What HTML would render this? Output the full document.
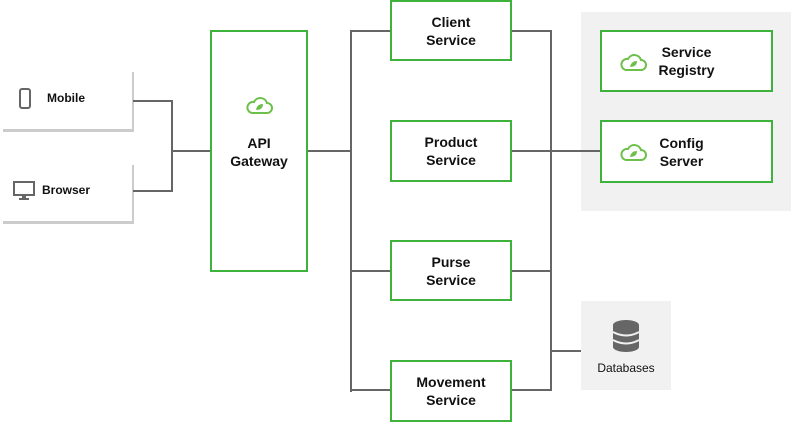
<!DOCTYPE html>
<html><head><style>
body{margin:0;width:792px;height:422px;background:#fff;position:relative;overflow:hidden;font-family:"Liberation Sans",Arial,sans-serif;}
.a{position:absolute}
.box{position:absolute;border:2px solid #3db33d;background:#fff;box-sizing:border-box;display:flex;align-items:center;justify-content:center;text-align:center;font-size:14px;font-weight:bold;color:#111;line-height:18px}
.h{position:absolute;height:2px;background:#666}
.v{position:absolute;width:2px;background:#666}
</style></head><body>
<div class="a" style="left:581px;top:12px;width:210px;height:199px;background:#f1f1f1"></div>
<div class="a" style="left:581px;top:301px;width:90px;height:89px;background:#f1f1f1"></div>
<div class="a" style="left:132px;top:72px;width:2px;height:59px;background:#ccc"></div>
<div class="a" style="left:3px;top:129px;width:131px;height:3px;background:#ccc"></div>
<div class="a" style="left:132px;top:165px;width:2px;height:59px;background:#ccc"></div>
<div class="a" style="left:3px;top:221px;width:131px;height:3px;background:#ccc"></div>
<div class="a" style="left:19px;top:88px;width:12px;height:21px;border:2px solid #666;border-radius:3px;box-sizing:border-box"></div>
<div class="a" style="left:47px;top:91px;font-size:12px;font-weight:bold;color:#111">Mobile</div>
<svg class="a" style="left:12px;top:180px" width="24" height="22"><rect x="2" y="2" width="20" height="13" fill="none" stroke="#666" stroke-width="2"/><rect x="10" y="15" width="4" height="3" fill="#666"/><rect x="7" y="18" width="10" height="2" fill="#666"/></svg>
<div class="a" style="left:42px;top:183px;font-size:12px;font-weight:bold;color:#111">Browser</div>
<div class="h" style="left:133px;top:100px;width:40px"></div>
<div class="h" style="left:133px;top:190px;width:40px"></div>
<div class="v" style="left:171px;top:100px;height:92px"></div>
<div class="h" style="left:171px;top:150px;width:41px"></div>
<div class="h" style="left:307px;top:150px;width:45px"></div>
<div class="v" style="left:350px;top:30px;height:362px"></div>
<div class="h" style="left:350px;top:30px;width:42px"></div>
<div class="h" style="left:350px;top:270px;width:42px"></div>
<div class="h" style="left:350px;top:389px;width:42px"></div>
<div class="h" style="left:510px;top:30px;width:42px"></div>
<div class="h" style="left:510px;top:150px;width:92px"></div>
<div class="h" style="left:510px;top:270px;width:42px"></div>
<div class="h" style="left:510px;top:389px;width:42px"></div>
<div class="v" style="left:550px;top:30px;height:361px"></div>
<div class="h" style="left:550px;top:350px;width:31px"></div>
<div class="box" style="left:210px;top:30px;width:98px;height:242px"></div>
<svg class="a" style="left:244px;top:94px" width="30" height="22"><path d="M8 19 H23 A5 5 0 0 0 23 9 A7 7 0 0 0 10 8 A5.5 5.5 0 0 0 8 19 Z" fill="none" stroke="#6cc04a" stroke-width="2"/><path d="M12 16 Q13 10 19 10 Q19 16 12 16 Z" fill="#6cc04a"/></svg>
<div class="a" style="left:210px;top:134px;width:98px;text-align:center;font-size:14px;font-weight:bold;line-height:18px;color:#111">API<br>Gateway</div>
<div class="box" style="left:390px;top:0px;width:122px;height:61px">Client<br>Service</div>
<div class="box" style="left:390px;top:120px;width:122px;height:62px">Product<br>Service</div>
<div class="box" style="left:390px;top:240px;width:122px;height:61px">Purse<br>Service</div>
<div class="box" style="left:390px;top:360px;width:122px;height:62px">Movement<br>Service</div>
<div class="box" style="left:600px;top:30px;width:173px;height:62px"><svg class="a" style="left:16px;top:19px" width="30" height="22"><path d="M8 19 H23 A5 5 0 0 0 23 9 A7 7 0 0 0 10 8 A5.5 5.5 0 0 0 8 19 Z" fill="none" stroke="#6cc04a" stroke-width="2"/><path d="M12 16 Q13 10 19 10 Q19 16 12 16 Z" fill="#6cc04a"/></svg><span>Service<br>Registry</span></div>
<div class="box" style="left:600px;top:120px;width:173px;height:63px"><svg class="a" style="left:16px;top:19px" width="30" height="22"><path d="M8 19 H23 A5 5 0 0 0 23 9 A7 7 0 0 0 10 8 A5.5 5.5 0 0 0 8 19 Z" fill="none" stroke="#6cc04a" stroke-width="2"/><path d="M12 16 Q13 10 19 10 Q19 16 12 16 Z" fill="#6cc04a"/></svg><span style="margin-left:-10px">Config<br>Server</span></div>
<svg class="a" style="left:612px;top:320px" width="28" height="32"><ellipse cx="14" cy="5" rx="13" ry="5" fill="#666"/><rect x="1" y="5" width="26" height="22" fill="#666"/><ellipse cx="14" cy="27" rx="13" ry="5" fill="#666"/><path d="M1 12 Q14 19 27 12 M1 20 Q14 27 27 20" stroke="#f1f1f1" stroke-width="2" fill="none"/></svg>
<div class="a" style="left:581px;top:361px;width:90px;text-align:center;font-size:12px;color:#111">Databases</div>
</body></html>
